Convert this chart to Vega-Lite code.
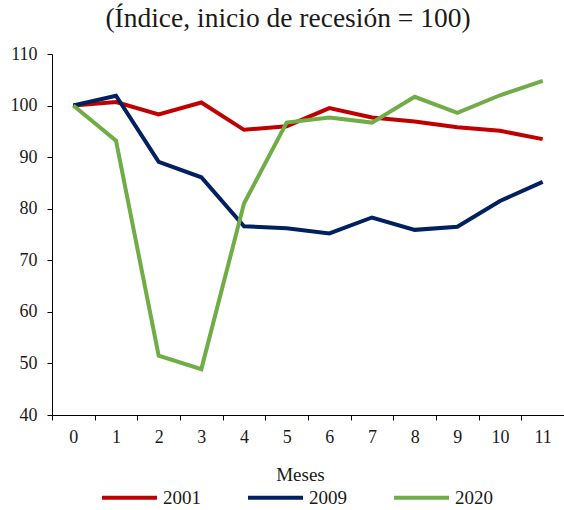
{
  "$schema": "https://vega.github.io/schema/vega-lite/v6.json",
  "autosize": "none",
  "width": 512,
  "height": 361,
  "padding": {"left": 52, "top": 54, "right": 0, "bottom": 95},
  "background": "white",
  "title": {
    "text": "(Índice, inicio de recesión = 100)",
    "font": "Liberation Serif",
    "fontSize": 27.5,
    "fontWeight": "normal",
    "color": "#1a1a1a",
    "anchor": "middle",
    "dx": -20,
    "offset": 13
  },
  "data": {
    "values": [
      {"mes": 0, "serie": "2001", "valor": 100},
      {"mes": 1, "serie": "2001", "valor": 100.7},
      {"mes": 2, "serie": "2001", "valor": 98.3},
      {"mes": 3, "serie": "2001", "valor": 100.6},
      {"mes": 4, "serie": "2001", "valor": 95.3},
      {"mes": 5, "serie": "2001", "valor": 96.0},
      {"mes": 6, "serie": "2001", "valor": 99.5},
      {"mes": 7, "serie": "2001", "valor": 97.7},
      {"mes": 8, "serie": "2001", "valor": 96.9},
      {"mes": 9, "serie": "2001", "valor": 95.8},
      {"mes": 10, "serie": "2001", "valor": 95.1},
      {"mes": 11, "serie": "2001", "valor": 93.5},
      {"mes": 0, "serie": "2009", "valor": 100},
      {"mes": 1, "serie": "2009", "valor": 101.9},
      {"mes": 2, "serie": "2009", "valor": 89.1},
      {"mes": 3, "serie": "2009", "valor": 86.1},
      {"mes": 4, "serie": "2009", "valor": 76.6},
      {"mes": 5, "serie": "2009", "valor": 76.2},
      {"mes": 6, "serie": "2009", "valor": 75.2},
      {"mes": 7, "serie": "2009", "valor": 78.3},
      {"mes": 8, "serie": "2009", "valor": 75.9},
      {"mes": 9, "serie": "2009", "valor": 76.5},
      {"mes": 10, "serie": "2009", "valor": 81.5},
      {"mes": 11, "serie": "2009", "valor": 85.2},
      {"mes": 0, "serie": "2020", "valor": 100},
      {"mes": 1, "serie": "2020", "valor": 93.2},
      {"mes": 2, "serie": "2020", "valor": 51.5},
      {"mes": 3, "serie": "2020", "valor": 48.9},
      {"mes": 4, "serie": "2020", "valor": 81.0},
      {"mes": 5, "serie": "2020", "valor": 96.7},
      {"mes": 6, "serie": "2020", "valor": 97.7},
      {"mes": 7, "serie": "2020", "valor": 96.7},
      {"mes": 8, "serie": "2020", "valor": 101.7},
      {"mes": 9, "serie": "2020", "valor": 98.6},
      {"mes": 10, "serie": "2020", "valor": 102.0},
      {"mes": 11, "serie": "2020", "valor": 104.8}
    ]
  },
  "mark": {"type": "line", "strokeWidth": 4, "strokeJoin": "miter", "strokeCap": "butt"},
  "encoding": {
    "x": {
      "field": "mes",
      "type": "ordinal",
      "scale": {"type": "band", "paddingInner": 0, "paddingOuter": 0},
      "axis": {
        "title": "Meses",
        "labelAngle": 0,
        "tickBand": "extent",
        "labelPadding": 8,
        "titleX": 248,
        "titlePadding": 19,
        "labelFont": "Liberation Serif",
        "titleFont": "Liberation Serif"
      }
    },
    "y": {
      "field": "valor",
      "type": "quantitative",
      "scale": {"domain": [40, 110], "nice": false, "zero": false},
      "axis": {"title": null, "values": [40, 50, 60, 70, 80, 90, 100, 110], "labelPadding": 10, "labelFont": "Liberation Serif"}
    },
    "color": {
      "field": "serie",
      "type": "nominal",
      "scale": {"domain": ["2001", "2009", "2020"], "range": ["#C00000", "#002060", "#70AD47"]},
      "legend": {
        "title": null,
        "orient": "none",
        "direction": "horizontal",
        "legendX": 48,
        "legendY": 414,
        "symbolType": "stroke",
        "symbolSize": 3025,
        "symbolStrokeWidth": 4,
        "labelOffset": 4,
        "columnPadding": 39,
        "labelFont": "Liberation Serif",
        "labelFontSize": 19,
        "labelColor": "#1a1a1a"
      }
    }
  },
  "config": {
    "font": "Liberation Serif",
    "view": {"stroke": null},
    "axis": {
      "grid": false,
      "domainColor": "#000000",
      "domainWidth": 1,
      "tickColor": "#000000",
      "tickSize": 5,
      "labelFont": "Liberation Serif",
      "labelFontSize": 18,
      "labelColor": "#1a1a1a",
      "titleFont": "Liberation Serif",
      "titleFontSize": 19,
      "titleFontWeight": "normal",
      "titleColor": "#1a1a1a"
    }
  }
}
